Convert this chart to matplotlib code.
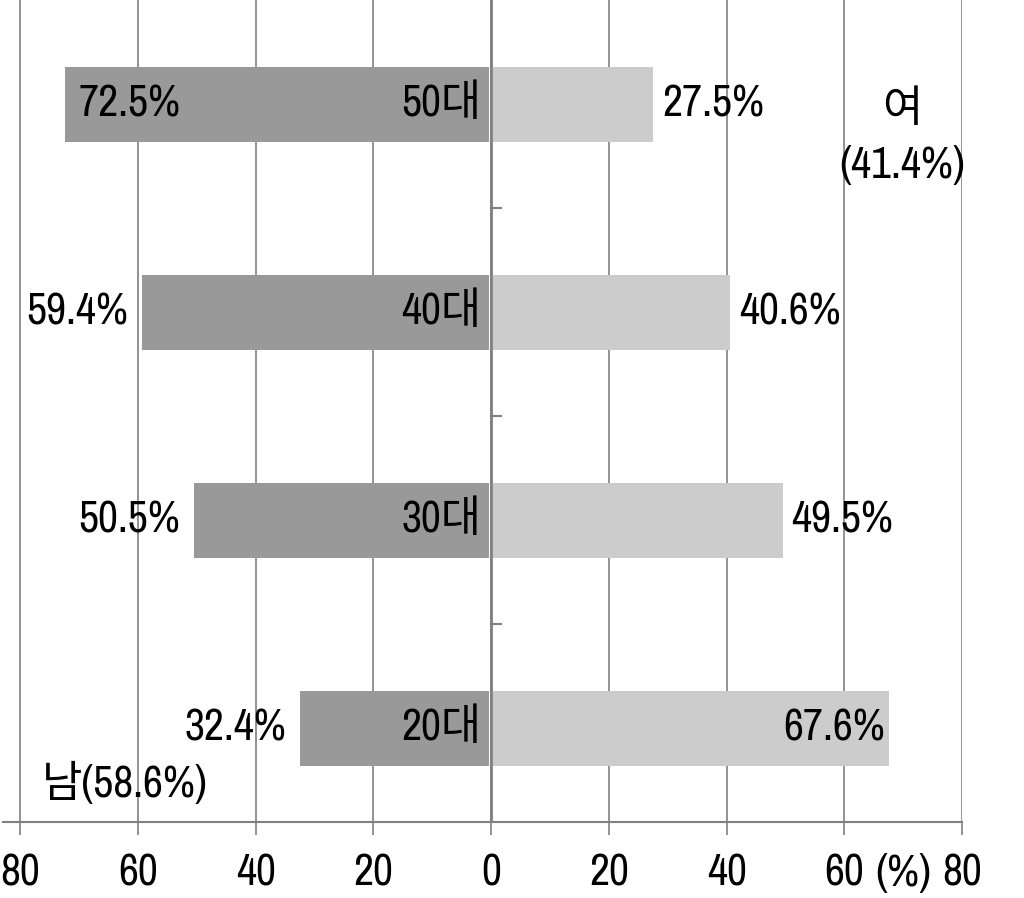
import matplotlib
matplotlib.use("Agg")
import matplotlib.pyplot as plt
import matplotlib.transforms as mtransforms

plt.rcParams['font.family'] = ['Archivo Narrow', 'Noto Sans CJK KR', 'DejaVu Sans']

categories = ['20대', '30대', '40대', '50대']
male = [32.4, 50.5, 59.4, 72.5]
female = [67.6, 49.5, 40.6, 27.5]
male_total = 58.6
female_total = 41.4
xticks = [-80, -60, -40, -20, 0, 20, 40, 60, 80]
xticklabels = ['80', '60', '40', '20', '0', '20', '40', '60', '80']

FS = 31.5
GAP = 0.3
fig = plt.figure(figsize=(10.24, 8.98), dpi=100)
ax = fig.add_axes([3/1024, 76/898, 959/1024, 822/898])
ys = list(range(len(categories)))
ax.barh(ys, [-(m - GAP) for m in male], height=0.36, left=-GAP, color='#999999', zorder=2)
ax.barh(ys, [f - GAP for f in female], height=0.36, left=GAP, color='#cccccc', zorder=2)

ax.set_xlim(-82.95, 80)
ax.set_ylim(-0.45, 3.5)
for x in xticks:
    ax.axvline(x, color='#808080', lw=1.2, zorder=1)
ax.axvline(0, color='#808080', lw=2, zorder=3)
for yb in [0.5, 1.5, 2.5]:
    ax.plot([0, 1.7], [yb, yb], color='#808080', lw=1.5, zorder=3)

for s in ['top', 'right', 'left']:
    ax.spines[s].set_visible(False)
ax.spines['bottom'].set_color('#808080')
ax.spines['bottom'].set_linewidth(1.5)
ax.set_yticks([])
ax.set_xticks(xticks)
ax.set_xticklabels(xticklabels, fontsize=FS)
ax.tick_params(axis='x', length=9, width=1.2, color='#808080', pad=14)

for i, (m, f, c) in enumerate(zip(male, female, categories)):
    ax.annotate(c, (0, i), xytext=(-7, 0), textcoords='offset points',
                ha='right', va='center', fontsize=FS, zorder=4)
    if m > 70:
        ax.annotate(f'{m}%', (-m, i), xytext=(10, 0), textcoords='offset points',
                    ha='left', va='center', fontsize=FS, zorder=4)
    else:
        ax.annotate(f'{m}%', (-m, i), xytext=(-10, 0), textcoords='offset points',
                    ha='right', va='center', fontsize=FS, zorder=4)
    if f > 60:
        ax.annotate(f'{f}%', (f, i), xytext=(-3, 0), textcoords='offset points',
                    ha='right', va='center', fontsize=FS, zorder=4)
    else:
        ax.annotate(f'{f}%', (f, i), xytext=(6.5, 0), textcoords='offset points',
                    ha='left', va='center', fontsize=FS, zorder=4)

ax.text(-76.3, -0.265, f'남({male_total}%)', ha='left', va='center', fontsize=FS)
ax.text(69.9, 2.97, '여', ha='center', va='center', fontsize=FS)
ax.text(69.9, 2.70, f'({female_total}%)', ha='center', va='center', fontsize=FS)
trans = mtransforms.blended_transform_factory(ax.transData, ax.transAxes)
ax.annotate('(%)', (70, 0), xycoords=trans, xytext=(0, -23), textcoords='offset points',
            ha='center', va='top', fontsize=FS)

fig.savefig('out.png', dpi=100)
